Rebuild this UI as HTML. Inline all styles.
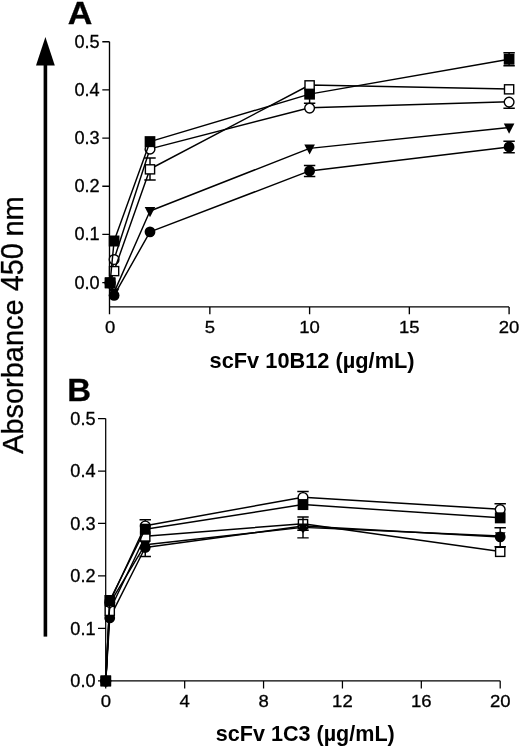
<!DOCTYPE html>
<html lang="en"><head><meta charset="utf-8"><title>Figure</title>
<style>
html,body{margin:0;padding:0;background:#fff;}
body{width:520px;height:747px;overflow:hidden;font-family:"Liberation Sans",Arial,sans-serif;}
svg{display:block;}
svg text{stroke:#000;stroke-width:.3px;}
svg text.b{stroke-width:0;}
</style></head><body>
<svg width="520" height="747" viewBox="0 0 520 747">
<rect width="520" height="747" fill="#fff"/>
<g font-family="'Liberation Sans', Arial, sans-serif" fill="#000">
<path d="M45.4 36.9L54.8 65.5H36Z" fill="#000"/>
<rect x="43.6" y="64" width="3.6" height="572.6" fill="#000"/>
<g transform="translate(22.7 0) rotate(-90)" font-size="30.3"><text x="-453.8" y="0" textLength="154.3" lengthAdjust="spacingAndGlyphs">Absorbance</text><text x="-291.3" y="0" font-size="30.8" textLength="48.2" lengthAdjust="spacingAndGlyphs">450</text><text x="-236.6" y="0" textLength="40.4" lengthAdjust="spacingAndGlyphs">nm</text></g>
<text x="67.7" y="23.5" font-size="32" font-weight="bold" textLength="24.6" lengthAdjust="spacingAndGlyphs">A</text>
<text x="67.3" y="400.8" font-size="32" font-weight="bold" textLength="23.8" lengthAdjust="spacingAndGlyphs">B</text>
<path d="M109.5 41.7V314.3M109.5 306.9H509.1M102.3 282.6H109.5M102.3 234.42H109.5M102.3 186.24H109.5M102.3 138.06H109.5M102.3 89.88H109.5M102.3 41.7H109.5M209.85 306.9V314.3M309.6 306.9V314.3M409.35 306.9V314.3M509.1 306.9V314.3" fill="none" stroke="#000" stroke-width="1.35"/>
<text x="99.7" y="288.5" font-size="17.5" text-anchor="end" textLength="25.2" lengthAdjust="spacingAndGlyphs">0.0</text>
<text x="99.7" y="240.32" font-size="17.5" text-anchor="end" textLength="25.2" lengthAdjust="spacingAndGlyphs">0.1</text>
<text x="99.7" y="192.14" font-size="17.5" text-anchor="end" textLength="25.2" lengthAdjust="spacingAndGlyphs">0.2</text>
<text x="99.7" y="143.96" font-size="17.5" text-anchor="end" textLength="25.2" lengthAdjust="spacingAndGlyphs">0.3</text>
<text x="99.7" y="95.78" font-size="17.5" text-anchor="end" textLength="25.2" lengthAdjust="spacingAndGlyphs">0.4</text>
<text x="99.7" y="47.6" font-size="17.5" text-anchor="end" textLength="25.2" lengthAdjust="spacingAndGlyphs">0.5</text>
<text x="110.1" y="333.1" font-size="17.2" text-anchor="middle" textLength="10.3" lengthAdjust="spacingAndGlyphs">0</text>
<text x="209.85" y="333.1" font-size="17.2" text-anchor="middle" textLength="10.3" lengthAdjust="spacingAndGlyphs">5</text>
<text x="309.6" y="333.1" font-size="17.2" text-anchor="middle" textLength="20.6" lengthAdjust="spacingAndGlyphs">10</text>
<text x="409.35" y="333.1" font-size="17.2" text-anchor="middle" textLength="20.6" lengthAdjust="spacingAndGlyphs">15</text>
<text x="509.1" y="333.1" font-size="17.2" text-anchor="middle" textLength="20.6" lengthAdjust="spacingAndGlyphs">20</text>
<text x="209.6" y="367.5" class="b" font-size="21.5" font-weight="bold" textLength="205" lengthAdjust="spacingAndGlyphs">scFv 10B12 (µg/mL)</text>
<path d="M105.7 418.6V688.4M105.7 680.9H500.4M98 680.8H105.7M98 628.35H105.7M98 575.9H105.7M98 523.45H105.7M98 471H105.7M98 418.55H105.7M184.68 680.9V688.4M263.56 680.9V688.4M342.44 680.9V688.4M421.32 680.9V688.4M500.2 680.9V688.4" fill="none" stroke="#000" stroke-width="1.25"/>
<text x="95.5" y="687" font-size="17.5" text-anchor="end" textLength="25.2" lengthAdjust="spacingAndGlyphs">0.0</text>
<text x="95.5" y="634.55" font-size="17.5" text-anchor="end" textLength="25.2" lengthAdjust="spacingAndGlyphs">0.1</text>
<text x="95.5" y="582.1" font-size="17.5" text-anchor="end" textLength="25.2" lengthAdjust="spacingAndGlyphs">0.2</text>
<text x="95.5" y="529.65" font-size="17.5" text-anchor="end" textLength="25.2" lengthAdjust="spacingAndGlyphs">0.3</text>
<text x="95.5" y="477.2" font-size="17.5" text-anchor="end" textLength="25.2" lengthAdjust="spacingAndGlyphs">0.4</text>
<text x="95.5" y="424.75" font-size="17.5" text-anchor="end" textLength="25.2" lengthAdjust="spacingAndGlyphs">0.5</text>
<text x="105.8" y="707" font-size="17.2" text-anchor="middle" textLength="10.3" lengthAdjust="spacingAndGlyphs">0</text>
<text x="184.68" y="707" font-size="17.2" text-anchor="middle" textLength="10.3" lengthAdjust="spacingAndGlyphs">4</text>
<text x="263.56" y="707" font-size="17.2" text-anchor="middle" textLength="10.3" lengthAdjust="spacingAndGlyphs">8</text>
<text x="342.44" y="707" font-size="17.2" text-anchor="middle" textLength="20.6" lengthAdjust="spacingAndGlyphs">12</text>
<text x="421.32" y="707" font-size="17.2" text-anchor="middle" textLength="20.6" lengthAdjust="spacingAndGlyphs">16</text>
<text x="500.2" y="707" font-size="17.2" text-anchor="middle" textLength="20.6" lengthAdjust="spacingAndGlyphs">20</text>
<text x="215.8" y="740.7" class="b" font-size="21.5" font-weight="bold" textLength="179" lengthAdjust="spacingAndGlyphs">scFv 1C3 (µg/mL)</text>
<g id="pa"><path d="M110.1 282.7L114.09 295.38L150 231.88L309.6 170.92L509.1 146.92" fill="none" stroke="#000" stroke-width="1.45" stroke-linejoin="round"/>
<path d="M309.6 170.92V165.4M303.9 165.4H315.3M309.6 170.92V176.44M303.9 176.44H315.3" fill="none" stroke="#000" stroke-width="1.45"/>
<path d="M509.1 146.92V141.16M503.4 141.16H514.8M509.1 146.92V152.68M503.4 152.68H514.8" fill="none" stroke="#000" stroke-width="1.45"/>
<circle cx="110.1" cy="282.7" r="5.4" fill="#000"/>
<circle cx="114.09" cy="295.38" r="5.4" fill="#000"/>
<circle cx="150" cy="231.88" r="5.4" fill="#000"/>
<circle cx="309.6" cy="170.92" r="5.4" fill="#000"/>
<circle cx="509.1" cy="146.92" r="5.4" fill="#000"/>
<path d="M110.1 282.7L114.09 292.36L150 211L309.6 148.36L509.1 127.48" fill="none" stroke="#000" stroke-width="1.45" stroke-linejoin="round"/>
<path d="M104.8 278.8H115.4L110.1 288.9Z" fill="#000"/>
<path d="M108.79 288.46H119.39L114.09 298.56Z" fill="#000"/>
<path d="M144.7 207.1H155.3L150 217.2Z" fill="#000"/>
<path d="M304.3 144.46H314.9L309.6 154.56Z" fill="#000"/>
<path d="M503.8 123.58H514.4L509.1 133.68Z" fill="#000"/>
<path d="M110.1 282.7L114.09 259.24L150 148.84L309.6 107.8L509.1 101.8" fill="none" stroke="#000" stroke-width="1.45" stroke-linejoin="round"/>
<path d="M509.1 101.8V108.18M503.4 108.18H514.8" fill="none" stroke="#000" stroke-width="1.45"/>
<circle cx="110.1" cy="283" r="4.85" fill="#fff" stroke="#000" stroke-width="1.4"/>
<circle cx="114.09" cy="259.54" r="4.85" fill="#fff" stroke="#000" stroke-width="1.4"/>
<circle cx="150" cy="149.14" r="4.85" fill="#fff" stroke="#000" stroke-width="1.4"/>
<circle cx="309.6" cy="108.1" r="4.85" fill="#fff" stroke="#000" stroke-width="1.4"/>
<circle cx="509.1" cy="102.1" r="4.85" fill="#fff" stroke="#000" stroke-width="1.4"/>
<path d="M110.1 282.7L114.09 270.76L150 169L309.6 85L509.1 88.98" fill="none" stroke="#000" stroke-width="1.45" stroke-linejoin="round"/>
<path d="M150 169V157.96M144.3 157.96H155.7M150 169V180.04M144.3 180.04H155.7" fill="none" stroke="#000" stroke-width="1.45"/>
<rect x="105.5" y="278.5" width="9.2" height="9.1" fill="#fff" stroke="#000" stroke-width="1.4"/>
<rect x="109.49" y="266.56" width="9.2" height="9.1" fill="#fff" stroke="#000" stroke-width="1.4"/>
<rect x="145.4" y="164.8" width="9.2" height="9.1" fill="#fff" stroke="#000" stroke-width="1.4"/>
<rect x="305" y="80.8" width="9.2" height="9.1" fill="#fff" stroke="#000" stroke-width="1.4"/>
<rect x="504.5" y="84.78" width="9.2" height="9.1" fill="#fff" stroke="#000" stroke-width="1.4"/>
<path d="M110.1 282.7L114.09 241L150 141.64L309.6 94.12L509.1 59.22" fill="none" stroke="#000" stroke-width="1.45" stroke-linejoin="round"/>
<path d="M309.6 94.12V103.24M303.9 103.24H315.3" fill="none" stroke="#000" stroke-width="1.45"/>
<path d="M509.1 59.22V52.74M503.4 52.74H514.8M509.1 59.22V65.7M503.4 65.7H514.8" fill="none" stroke="#000" stroke-width="1.45"/>
<rect x="104.75" y="277.2" width="10.7" height="11" fill="#000"/>
<rect x="108.74" y="235.5" width="10.7" height="11" fill="#000"/>
<rect x="144.65" y="136.14" width="10.7" height="11" fill="#000"/>
<rect x="304.25" y="88.62" width="10.7" height="11" fill="#000"/>
<rect x="503.75" y="53.72" width="10.7" height="11" fill="#000"/></g>
<g id="pb"><path d="M105.8 680.8L109.74 617.91L145.24 547.52L303 526.07L500.2 536.93" fill="none" stroke="#000" stroke-width="1.45" stroke-linejoin="round"/>
<path d="M145.24 547.52V556.44M139.54 556.44H150.94" fill="none" stroke="#000" stroke-width="1.45"/>
<path d="M303 526.07V537.87M297.3 537.87H308.7" fill="none" stroke="#000" stroke-width="1.45"/>
<path d="M500.2 536.93V527.75M494.5 527.75H505.9M500.2 536.93V546.84M494.5 546.84H505.9" fill="none" stroke="#000" stroke-width="1.45"/>
<circle cx="105.8" cy="680.8" r="5.4" fill="#000"/>
<circle cx="109.74" cy="617.91" r="5.4" fill="#000"/>
<circle cx="145.24" cy="547.52" r="5.4" fill="#000"/>
<circle cx="303" cy="526.07" r="5.4" fill="#000"/>
<circle cx="500.2" cy="536.93" r="5.4" fill="#000"/>
<path d="M105.8 680.8L109.74 610.52L145.24 536.2L303 523.71L500.2 551.51" fill="none" stroke="#000" stroke-width="1.45" stroke-linejoin="round"/>
<rect x="101.2" y="676.6" width="9.2" height="9.1" fill="#fff" stroke="#000" stroke-width="1.4"/>
<rect x="105.14" y="606.32" width="9.2" height="9.1" fill="#fff" stroke="#000" stroke-width="1.4"/>
<rect x="140.64" y="532" width="9.2" height="9.1" fill="#fff" stroke="#000" stroke-width="1.4"/>
<rect x="298.4" y="519.51" width="9.2" height="9.1" fill="#fff" stroke="#000" stroke-width="1.4"/>
<rect x="495.6" y="547.31" width="9.2" height="9.1" fill="#fff" stroke="#000" stroke-width="1.4"/>
<path d="M105.8 680.8L109.74 603.44L145.24 544.69L303 527.38L500.2 536.04" fill="none" stroke="#000" stroke-width="1.45" stroke-linejoin="round"/>
<path d="M303 527.38V517M297.3 517H308.7M303 527.38V530.27M297.3 530.27H308.7" fill="none" stroke="#000" stroke-width="1.45"/>
<path d="M100.5 676.9H111.1L105.8 687Z" fill="#000"/>
<path d="M104.44 599.54H115.04L109.74 609.64Z" fill="#000"/>
<path d="M139.94 540.79H150.54L145.24 550.89Z" fill="#000"/>
<path d="M297.7 523.48H308.3L303 533.58Z" fill="#000"/>
<path d="M494.9 532.14H505.5L500.2 542.24Z" fill="#000"/>
<path d="M105.8 680.8L109.74 602.12L145.24 525.71L303 497.22L500.2 509.29" fill="none" stroke="#000" stroke-width="1.45" stroke-linejoin="round"/>
<path d="M145.24 525.71V519.67M139.54 519.67H150.94" fill="none" stroke="#000" stroke-width="1.45"/>
<path d="M303 497.22V491.46M297.3 491.46H308.7" fill="none" stroke="#000" stroke-width="1.45"/>
<path d="M500.2 509.29V503.68M494.5 503.68H505.9" fill="none" stroke="#000" stroke-width="1.45"/>
<circle cx="105.8" cy="681.1" r="4.85" fill="#fff" stroke="#000" stroke-width="1.4"/>
<circle cx="109.74" cy="602.42" r="4.85" fill="#fff" stroke="#000" stroke-width="1.4"/>
<circle cx="145.24" cy="526.01" r="4.85" fill="#fff" stroke="#000" stroke-width="1.4"/>
<circle cx="303" cy="497.52" r="4.85" fill="#fff" stroke="#000" stroke-width="1.4"/>
<circle cx="500.2" cy="509.59" r="4.85" fill="#fff" stroke="#000" stroke-width="1.4"/>
<path d="M105.8 680.8L109.74 600.5L145.24 529.22L303 504.57L500.2 517.84" fill="none" stroke="#000" stroke-width="1.45" stroke-linejoin="round"/>
<rect x="100.45" y="675.3" width="10.7" height="11" fill="#000"/>
<rect x="104.39" y="595" width="10.7" height="11" fill="#000"/>
<rect x="139.89" y="523.72" width="10.7" height="11" fill="#000"/>
<rect x="297.65" y="499.07" width="10.7" height="11" fill="#000"/>
<rect x="494.85" y="512.34" width="10.7" height="11" fill="#000"/></g>
</g></svg>
</body></html>
